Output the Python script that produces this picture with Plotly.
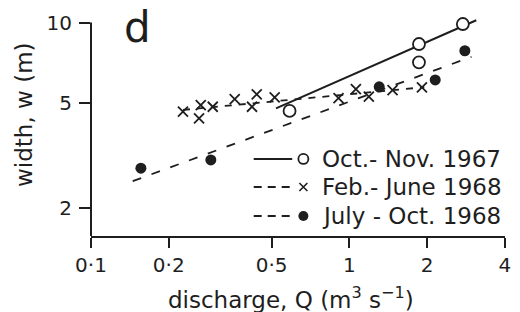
import plotly.graph_objects as go
import math

# ---- data ----
oct_q = [0.587, 1.86, 1.86, 2.75]
oct_w = [4.65, 8.30, 7.08, 9.87]
oct_fit_q = [0.52, 3.10]
oct_fit_w = [4.75, 10.2]

feb_q = [0.227, 0.262, 0.266, 0.296, 0.36, 0.42, 0.438, 0.514, 0.908, 1.06, 1.19, 1.47, 1.91]
feb_w = [4.62, 4.36, 4.89, 4.82, 5.15, 4.82, 5.37, 5.23, 5.19, 5.61, 5.26, 5.57, 5.70]
feb_fit_q = [0.227, 1.95]
feb_fit_w = [4.69, 5.71]

jul_q = [0.156, 0.291, 1.305, 2.15, 2.80]
jul_w = [2.83, 3.04, 5.73, 6.08, 7.83]
jul_fit_q = [0.145, 2.97]
jul_fit_w = [2.53, 7.43]

series_names = ["Oct.- Nov. 1967", "Feb.- June 1968", "July - Oct. 1968"]
x_ticks = [0.1, 0.2, 0.5, 1, 2, 4]
x_ticktext = ["0·1", "0·2", "0·5", "1", "2", "4"]
y_ticks = [2, 5, 10]
y_ticktext = ["2", "5", "10"]

INK = "#1e1e1e"
FONT = "DejaVu Sans"

y_lo, y_hi = 0.1968, 1.0132
def ypaper(v):
    return (math.log10(v) - y_lo) / (y_hi - y_lo)

fig = go.Figure()

# fit lines
fig.add_trace(go.Scatter(x=oct_fit_q, y=oct_fit_w, mode="lines",
                         line=dict(color=INK, width=2), showlegend=False))
fig.add_trace(go.Scatter(x=feb_fit_q, y=feb_fit_w, mode="lines",
                         line=dict(color=INK, width=1.8, dash="7px,7px"), showlegend=False))
fig.add_trace(go.Scatter(x=jul_fit_q, y=jul_fit_w, mode="lines",
                         line=dict(color=INK, width=1.8, dash="9px,11px"), showlegend=False))

# points
fig.add_trace(go.Scatter(x=oct_q, y=oct_w, mode="markers", cliponaxis=False,
                         marker=dict(symbol="circle", size=12, color="white",
                                     line=dict(color=INK, width=1.8)), showlegend=False))
fig.add_trace(go.Scatter(x=feb_q, y=feb_w, mode="markers", cliponaxis=False,
                         marker=dict(symbol="x-thin", size=10,
                                     line=dict(color=INK, width=1.8)), showlegend=False))
fig.add_trace(go.Scatter(x=jul_q, y=jul_w, mode="markers", cliponaxis=False,
                         marker=dict(symbol="circle", size=11, color=INK), showlegend=False))

# legend (manual, on an overlay axis spanning the plot area)
leg_y = [0.355, 0.226, 0.092]
leg_x0, leg_x1, leg_xm, leg_xt = 0.393, 0.486, 0.513, 0.553
fig.add_trace(go.Scatter(x=[leg_xm], y=[leg_y[0]], xaxis="x2", yaxis="y2", mode="markers",
                         marker=dict(symbol="circle", size=10, color="white",
                                     line=dict(color=INK, width=1.8)), showlegend=False))
fig.add_trace(go.Scatter(x=[leg_xm], y=[leg_y[1]], xaxis="x2", yaxis="y2", mode="markers",
                         marker=dict(symbol="x-thin", size=8,
                                     line=dict(color=INK, width=1.6)), showlegend=False))
fig.add_trace(go.Scatter(x=[leg_xm], y=[leg_y[2]], xaxis="x2", yaxis="y2", mode="markers",
                         marker=dict(symbol="circle", size=10, color=INK), showlegend=False))

shapes = []
dashes = ["solid", "8px,6px", "8px,6px"]
for yy, d in zip(leg_y, dashes):
    shapes.append(dict(type="line", xref="paper", yref="paper", x0=leg_x0, x1=leg_x1,
                       y0=yy, y1=yy, line=dict(color=INK, width=2, dash=d)))
# y-axis line from bottom up to the 10 tick
shapes.append(dict(type="line", xref="paper", yref="paper", x0=0, x1=0,
                   y0=0, y1=ypaper(10), line=dict(color=INK, width=2)))

annotations = []
for yy, name in zip(leg_y, series_names):
    annotations.append(dict(x=leg_xt, y=yy, xref="paper", yref="paper", text=name,
                            showarrow=False, xanchor="left", yanchor="middle",
                            font=dict(family=FONT, size=23, color=INK)))
annotations.append(dict(x=0.112, y=0.963, xref="paper", yref="paper", text="d",
                        showarrow=False, xanchor="center", yanchor="middle",
                        font=dict(family=FONT, size=42, color=INK)))
annotations.append(dict(x=0.482, y=-0.285, xref="paper", yref="paper",
                        text="discharge, Q (m<sup>3</sup> s<sup>−1</sup>)",
                        showarrow=False, xanchor="center", yanchor="middle",
                        font=dict(family=FONT, size=23, color=INK)))
annotations.append(dict(x=-0.162, y=0.562, xref="paper", yref="paper",
                        text="width, w (m)", textangle=-90,
                        showarrow=False, xanchor="center", yanchor="middle",
                        font=dict(family=FONT, size=23, color=INK)))

fig.update_layout(
    width=520, height=312,
    margin=dict(l=91, r=9, t=19, b=76),
    paper_bgcolor="white", plot_bgcolor="white",
    font=dict(family=FONT, color=INK),
    xaxis=dict(type="log", range=[math.log10(0.1), math.log10(4) + 0.0005],
               tickvals=x_ticks, ticktext=x_ticktext,
               showgrid=False, zeroline=False, showline=True, linecolor=INK, linewidth=2,
               ticks="outside", ticklen=10, tickwidth=2, tickcolor=INK,
               tickfont=dict(family=FONT, size=20, color=INK), ticklabelstandoff=0),
    yaxis=dict(type="log", range=[y_lo, y_hi],
               tickvals=y_ticks, ticktext=y_ticktext,
               showgrid=False, zeroline=False, showline=False,
               ticks="outside", ticklen=11, tickwidth=2, tickcolor=INK,
               tickfont=dict(family=FONT, size=20, color=INK), ticklabelstandoff=3),
    xaxis2=dict(overlaying="x", range=[0, 1], visible=False),
    yaxis2=dict(overlaying="y", range=[0, 1], visible=False),
    shapes=shapes, annotations=annotations, showlegend=False,
)

fig.write_html("out.html", config={"displayModeBar": False},
               post_script="document.body.style.margin='0';document.body.style.overflow='hidden';")
